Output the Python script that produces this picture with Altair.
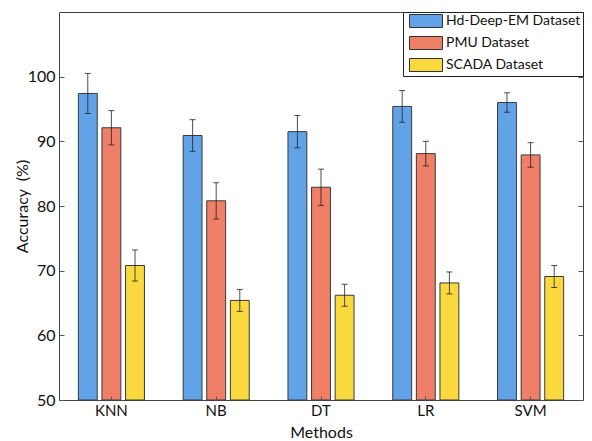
import altair as alt
import pandas as pd

methods = ["KNN", "NB", "DT", "LR", "SVM"]
datasets = ["Hd-Deep-EM Dataset", "PMU Dataset", "SCADA Dataset"]
colors = ["#62a3e8", "#ef7f66", "#f9d93e"]

hd_acc = [97.4, 90.9, 91.5, 95.4, 96.0]
pmu_acc = [92.1, 80.8, 82.9, 88.1, 87.9]
scada_acc = [70.8, 65.4, 66.2, 68.1, 69.1]

hd_err = [3.1, 2.45, 2.5, 2.45, 1.5]
pmu_err = [2.65, 2.8, 2.8, 1.9, 1.9]
scada_err = [2.4, 1.7, 1.7, 1.7, 1.7]

y_ticks = [50, 60, 70, 80, 90, 100]
y_min, y_max = 50, 110

rows = []
for ds, accs, errs in zip(datasets, [hd_acc, pmu_acc, scada_acc], [hd_err, pmu_err, scada_err]):
    for m, a, e in zip(methods, accs, errs):
        rows.append({"method": m, "dataset": ds, "acc": a, "lo": a - e, "hi": a + e})
df = pd.DataFrame(rows)

FONT = "Lato"
yscale = alt.Scale(domain=[y_min, y_max], nice=False, zero=False)
xenc = alt.X("method:N", sort=methods, scale=alt.Scale(paddingInner=0, paddingOuter=0),
             axis=alt.Axis(title="Methods", labelAngle=0, labelFontSize=15, titleFontSize=16,
                           titleFontWeight="normal", offset=-4, tickSize=4, labelPadding=3,
                           domain=False, tickColor="#555", labelColor="#111", titleColor="#111",
                           titlePadding=6, zindex=1, labelFont=FONT, titleFont=FONT))
xoff = alt.XOffset("dataset:N", sort=datasets,
                   scale=alt.Scale(paddingInner=0.2, paddingOuter=0.82))

base = alt.Chart(df)

bars = base.mark_bar(stroke="#3a3a3a", strokeWidth=1).encode(
    x=xenc,
    xOffset=xoff,
    y=alt.Y("acc:Q", scale=yscale,
            axis=alt.Axis(title="Accuracy\u00a0 (%)", values=y_ticks, labelFontSize=16,
                          titleFontSize=16, titleFontWeight="normal", offset=-5, tickSize=5,
                          labelPadding=4, domain=False, grid=False, tickColor="#555",
                          labelColor="#111", titleColor="#111", titlePadding=-3, zindex=1,
                          labelFont=FONT, titleFont=FONT)),
    y2=alt.datum(y_min),
    color=alt.Color("dataset:N", sort=datasets,
                    scale=alt.Scale(domain=datasets, range=colors),
                    legend=alt.Legend(title=None, orient="top-right", offset=0,
                                      padding=2, rowPadding=4,
                                      strokeColor="#222", fillColor="white",
                                      symbolType="M-0.385,-1L4.69,-1L4.69,1L-0.385,1Z",
                                      symbolSize=169, symbolStrokeColor="#333",
                                      symbolStrokeWidth=1, symbolOpacity=1,
                                      labelFontSize=14, labelOffset=27,
                                      labelFont=FONT, labelColor="#111")),
)

rules = base.mark_rule(color="#222", strokeWidth=1, opacity=0.8).encode(
    x=alt.X("method:N", sort=methods),
    xOffset=xoff,
    y=alt.Y("lo:Q", scale=yscale,
            axis=alt.Axis(orient="right", values=y_ticks, labels=False, title=None,
                          offset=-5, tickSize=5, domain=False, grid=False,
                          tickColor="#555", zindex=1)),
    y2="hi:Q",
)

caps_lo = base.mark_tick(color="#222", size=6, thickness=1, opacity=0.8).encode(
    x=alt.X("method:N", sort=methods),
    xOffset=xoff,
    y=alt.Y("lo:Q", scale=yscale, axis=None),
)
caps_hi = base.mark_tick(color="#222", size=6, thickness=1, opacity=0.8).encode(
    x=alt.X("method:N", sort=methods),
    xOffset=xoff,
    y=alt.Y("hi:Q", scale=yscale, axis=None),
)

chart = alt.layer(bars, rules, caps_lo, caps_hi).resolve_axis(y="independent").properties(
    width=576, height=388,
    autosize=alt.AutoSizeParams(type="fit-x", contains="padding"),
    padding={"left": 6, "top": 4, "right": 0, "bottom": 0},
).configure_view(stroke="#444", strokeWidth=1)

chart.save("out.html", embed_options={"renderer": "svg", "actions": False})
